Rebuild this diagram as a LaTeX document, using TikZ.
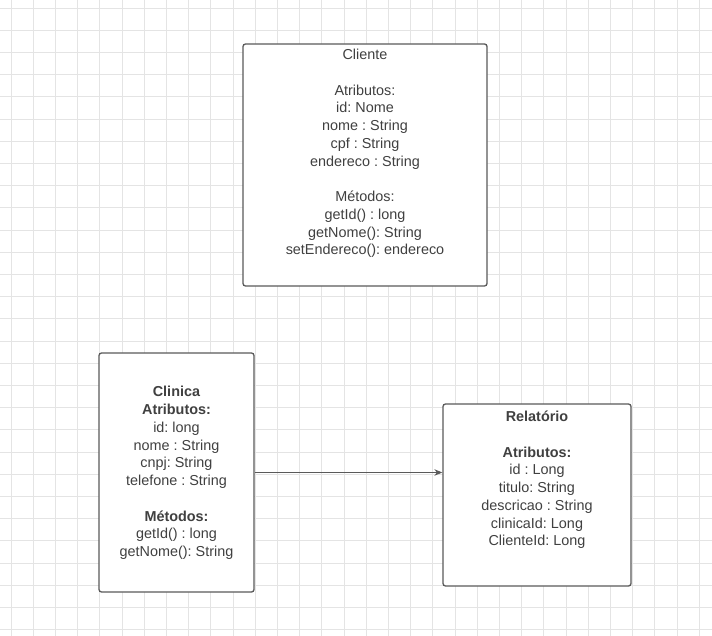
\documentclass[tikz,border=0pt]{standalone}
\usepackage{fontspec}
\setmainfont{Liberation Sans}
\frenchspacing
\usetikzlibrary{arrows.meta}
\definecolor{gridgray}{HTML}{E4E4E4}
\definecolor{boxgray}{HTML}{5A5A5A}
\definecolor{txtgray}{HTML}{404040}
\tikzset{
	classbox/.style={draw=boxgray, line width=1.3pt, rounded corners=2.5pt, fill=white, inner sep=0pt},
	classtext/.style={align=center, text=txtgray, inner sep=0pt, font=\fontsize{14.4}{17.75}\selectfont},
	assoc/.style={draw=boxgray, line width=0.9pt, -{Stealth[length=8pt,width=6.5pt]}}
}

\begin{document}
\begin{tikzpicture}[x=1pt, y=-1pt]
			%%%%% START %%%%%
			
			\useasboundingbox (0, 0) rectangle (712, 636);
			\fill[white] (0, 0) rectangle (712, 636);
			
			% grid
			\foreach \i in {0,...,31}
				\draw[gridgray, line width=0.9pt] ({11+22.2*\i}, 0) -- ({11+22.2*\i}, 636);
			\foreach \j in {0,...,28}
				\draw[gridgray, line width=0.9pt] (0, {8+22.2*\j}) -- (712, {8+22.2*\j});
			
			% Cliente
			\node[classbox, minimum width=244pt, minimum height=242pt] (cliente) at (365, 165) {};
			\node[classtext] (clientetxt) at (365, 153.5) {Cliente\\[17.75pt]
				Atributos:\\ id: Nome\\ nome : String\\ cpf : String\\ endereco : String\\[17.75pt]
				Métodos:\\ getId() : long\\ getNome(): String\\ setEndereco(): endereco};
			
			% Clinica
			\node[classbox, minimum width=155pt, minimum height=239pt] (clinica) at (176.5, 472.5) {};
			\node[classtext] (clinicatxt) at (176.5, 473) {\textbf{Clinica}\\ \textbf{Atributos:}\\
				id: long\\ nome : String\\ cnpj: String\\ telefone : String\\[17.75pt]
				\textbf{Métodos:}\\ getId() : long\\ getNome(): String};
			
			% Relatorio
			\node[classbox, minimum width=188pt, minimum height=182pt] (relatorio) at (537, 495) {};
			\node[classtext] (relatoriotxt) at (537, 480) {\textbf{Relatório}\\[17.75pt]
				\textbf{Atributos:}\\ id : Long\\ titulo: String\\ descricao : String\\
				clinicaId: Long\\ ClienteId: Long};
			
			\draw[assoc] (clinica.east) -- (clinica.east -| relatorio.west);
			
			%%%%% END %%%%%
\end{tikzpicture}
\end{document}
